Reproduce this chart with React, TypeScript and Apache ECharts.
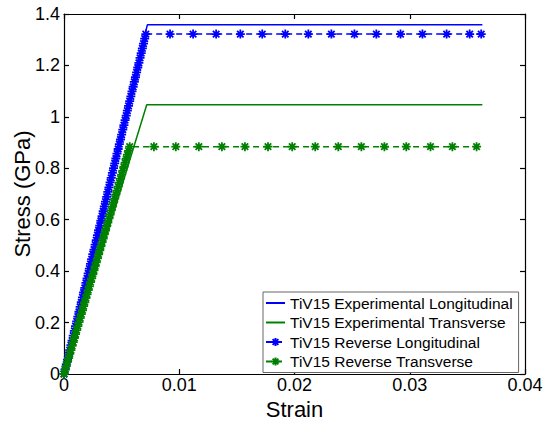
import React, { useEffect, useRef } from "react";
import * as echarts from "echarts";

const FONT = '"Liberation Sans", Arial, Helvetica, sans-serif';

const xTicks = [0, 0.01, 0.02, 0.03, 0.04];
const yTicks = [0, 0.2, 0.4, 0.6, 0.8, 1, 1.2, 1.4];

const seriesNames = [
  "TiV15 Experimental Longitudinal",
  "TiV15 Experimental Transverse",
  "TiV15 Reverse Longitudinal",
  "TiV15 Reverse Transverse",
];

// Experimental curves
const expLongStrain = [0, 0.00723, 0.0363];
const expLongStress = [0, 1.358, 1.358];
const expTransStrain = [0, 0.00718, 0.0363];
const expTransStress = [0, 1.047, 1.047];

// Reverse longitudinal (dense ramp then sparse plateau)
const revLongStrain = [
  0, 0.0001, 0.0002, 0.0003, 0.0004, 0.0005, 0.0006, 0.0007, 0.0008, 0.0009,
  0.001, 0.0011, 0.0012, 0.0013, 0.0014, 0.0015, 0.0016, 0.0017, 0.0018, 0.0019,
  0.002, 0.0021, 0.0022, 0.0023, 0.0024, 0.0025, 0.0026, 0.0027, 0.0028, 0.0029,
  0.003, 0.0031, 0.0032, 0.0033, 0.0034, 0.0035, 0.0036, 0.0037, 0.0038, 0.0039,
  0.004, 0.0041, 0.0042, 0.0043, 0.0044, 0.0045, 0.0046, 0.0047, 0.0048, 0.0049,
  0.005, 0.0051, 0.0052, 0.0053, 0.0054, 0.0055, 0.0056, 0.0057, 0.0058, 0.0059,
  0.006, 0.0061, 0.0062, 0.0063, 0.0064, 0.0065, 0.0066, 0.0067, 0.0068, 0.0069,
  0.007, 0.0071,
  0.0092, 0.0112, 0.0132, 0.0153, 0.0172, 0.0192, 0.0212, 0.0232, 0.0252, 0.0271,
  0.0292, 0.0311, 0.0332, 0.0352, 0.0362,
];
const revLongStress = [
  0, 0.019, 0.037, 0.056, 0.074, 0.093, 0.112, 0.13, 0.149, 0.168,
  0.186, 0.205, 0.223, 0.242, 0.261, 0.279, 0.298, 0.317, 0.335, 0.354,
  0.372, 0.391, 0.41, 0.428, 0.447, 0.466, 0.484, 0.503, 0.521, 0.54,
  0.559, 0.577, 0.596, 0.614, 0.633, 0.652, 0.67, 0.689, 0.708, 0.726,
  0.745, 0.763, 0.782, 0.801, 0.819, 0.838, 0.857, 0.875, 0.894, 0.912,
  0.931, 0.95, 0.968, 0.987, 1.005, 1.024, 1.043, 1.061, 1.08, 1.099,
  1.117, 1.136, 1.154, 1.173, 1.192, 1.21, 1.229, 1.248, 1.266, 1.285,
  1.304, 1.322,
  1.322, 1.322, 1.322, 1.322, 1.322, 1.322, 1.322, 1.322, 1.322, 1.322,
  1.322, 1.322, 1.322, 1.322, 1.322,
];

// Reverse transverse
const revTransStrain = [
  0, 0.0001, 0.0002, 0.0003, 0.0004, 0.0005, 0.0006, 0.0007, 0.0008, 0.0009,
  0.001, 0.0011, 0.0012, 0.0013, 0.0014, 0.0015, 0.0016, 0.0017, 0.0018, 0.0019,
  0.002, 0.0021, 0.0022, 0.0023, 0.0024, 0.0025, 0.0026, 0.0027, 0.0028, 0.0029,
  0.003, 0.0031, 0.0032, 0.0033, 0.0034, 0.0035, 0.0036, 0.0037, 0.0038, 0.0039,
  0.004, 0.0041, 0.0042, 0.0043, 0.0044, 0.0045, 0.0046, 0.0047, 0.0048, 0.0049,
  0.005, 0.0051, 0.0052, 0.0053, 0.0054, 0.0055, 0.0056, 0.0057,
  0.0078, 0.0097, 0.0117, 0.0137, 0.0157, 0.0177, 0.0198, 0.0218, 0.0238, 0.0258,
  0.0278, 0.0297, 0.0318, 0.0337, 0.0358,
];
const revTransStress = [
  0, 0.016, 0.031, 0.047, 0.062, 0.078, 0.093, 0.109, 0.124, 0.14,
  0.155, 0.171, 0.186, 0.202, 0.217, 0.233, 0.248, 0.264, 0.279, 0.295,
  0.31, 0.326, 0.341, 0.357, 0.372, 0.388, 0.403, 0.419, 0.434, 0.45,
  0.465, 0.481, 0.496, 0.512, 0.527, 0.543, 0.558, 0.574, 0.589, 0.605,
  0.62, 0.636, 0.651, 0.667, 0.682, 0.698, 0.713, 0.729, 0.744, 0.76,
  0.775, 0.791, 0.806, 0.822, 0.837, 0.853, 0.868, 0.884,
  0.884, 0.884, 0.884, 0.884, 0.884, 0.884, 0.884, 0.884, 0.884, 0.884,
  0.884, 0.884, 0.884, 0.884, 0.884,
];

const BLUE = "#0000ff";
const GREEN = "#008000";
const STAR = "path://M0,-5L0,5M-5,0L5,0M-3.6,-3.6L3.6,3.6M-3.6,3.6L3.6,-3.6";

const pairs = (xs: number[], ys: number[]) => xs.map((x, i) => [x, ys[i]]);

export default function App() {
  const ref = useRef<HTMLDivElement>(null);
  useEffect(() => {
    if (!ref.current) return;
    const chart = echarts.init(ref.current, null, { renderer: "svg" });
    const tickLabel = { color: "#000", fontSize: 18, fontFamily: FONT };
    const boxAxisCommon = {
      axisLine: { show: true, onZero: false, lineStyle: { color: "#000", width: 1.2 } },
      axisTick: { show: true, inside: true, length: 5, lineStyle: { color: "#000", width: 1.2 } },
      splitLine: { show: false },
    };
    const option: any = {
      animation: false,
      backgroundColor: "#fff",
      grid: {
        left: 64,
        top: 14,
        right: 19,
        bottom: 49,
        containLabel: false,
        outerBoundsMode: "none",
      },
      xAxis: [
        {
          type: "value",
          position: "bottom",
          min: xTicks[0],
          max: xTicks[xTicks.length - 1],
          interval: 0.01,
          name: "Strain",
          nameLocation: "middle",
          nameGap: 24,
          nameMoveOverlap: false,
          nameTextStyle: { color: "#000", fontSize: 22, fontFamily: FONT },
          axisLabel: { ...tickLabel, margin: 2 },
          ...boxAxisCommon,
        },
        {
          type: "value",
          position: "top",
          min: xTicks[0],
          max: xTicks[xTicks.length - 1],
          interval: 0.01,
          axisLabel: { show: false },
          ...boxAxisCommon,
        },
      ],
      yAxis: [
        {
          type: "value",
          position: "left",
          min: yTicks[0],
          max: yTicks[yTicks.length - 1],
          interval: 0.2,
          name: "Stress (GPa)",
          nameLocation: "middle",
          nameGap: 31,
          nameMoveOverlap: false,
          nameTextStyle: { color: "#000", fontSize: 22, fontFamily: FONT },
          axisLabel: { ...tickLabel, margin: 4 },
          ...boxAxisCommon,
        },
        {
          type: "value",
          position: "right",
          min: yTicks[0],
          max: yTicks[yTicks.length - 1],
          interval: 0.2,
          axisLabel: { show: false },
          ...boxAxisCommon,
        },
      ],
      legend: {
        orient: "vertical",
        left: 263,
        top: 292,
        padding: [3, 6, 3, 2],
        itemWidth: 19,
        itemHeight: 10,
        itemGap: 3.5,
        backgroundColor: "#fff",
        borderColor: "#666",
        borderWidth: 1,
        borderRadius: 0,
        textStyle: { color: "#000", fontSize: 15.5, fontFamily: FONT },
        data: [
          { name: seriesNames[0], itemStyle: { opacity: 0 } },
          { name: seriesNames[1], itemStyle: { opacity: 0 } },
          { name: seriesNames[2] },
          { name: seriesNames[3] },
        ],
      },
      series: [
        {
          name: seriesNames[0],
          type: "line",
          data: pairs(expLongStrain, expLongStress),
          symbol: "none",
          lineStyle: { color: BLUE, width: 1.5 },
          itemStyle: { color: BLUE },
        },
        {
          name: seriesNames[1],
          type: "line",
          data: pairs(expTransStrain, expTransStress),
          symbol: "none",
          lineStyle: { color: GREEN, width: 1.5 },
          itemStyle: { color: GREEN },
        },
        {
          name: seriesNames[2],
          type: "line",
          data: pairs(revLongStrain, revLongStress),
          symbol: STAR,
          symbolSize: 9,
          symbolKeepAspect: true,
          showAllSymbol: true,
          clip: false,
          lineStyle: { color: BLUE, width: 1.5, type: [6, 4] },
          itemStyle: { color: BLUE, borderColor: BLUE, borderWidth: 1.8 },
        },
        {
          name: seriesNames[3],
          type: "line",
          data: pairs(revTransStrain, revTransStress),
          symbol: STAR,
          symbolSize: 9,
          symbolKeepAspect: true,
          showAllSymbol: true,
          clip: false,
          lineStyle: { color: GREEN, width: 1.5, type: [6, 4] },
          itemStyle: { color: GREEN, borderColor: GREEN, borderWidth: 1.8 },
        },
      ],
    };
    chart.setOption(option);
    return () => chart.dispose();
  }, []);
  return (
    <div
      ref={ref}
      style={{ position: "fixed", left: 0, top: 0, width: 544, height: 423, background: "#fff" }}
    />
  );
}
